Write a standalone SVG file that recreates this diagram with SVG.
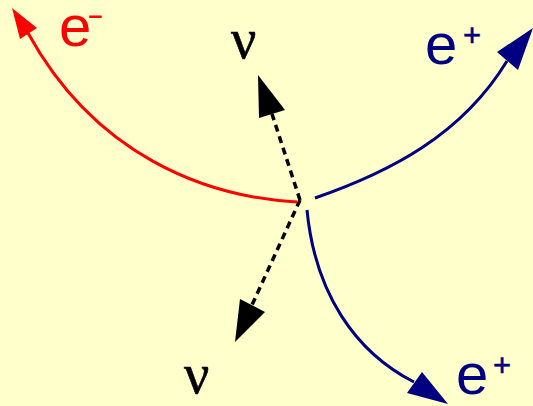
<svg xmlns="http://www.w3.org/2000/svg" width="533" height="406" viewBox="0 0 533 406">
<style>
.bg{fill:#FFFFCC}
.red{fill:none;stroke:#FF0000;stroke-width:3}
.navy{fill:none;stroke:#000080;stroke-width:3}
.dash{fill:none;stroke:#000;stroke-width:3.5;stroke-dasharray:7 5}
.hr{fill:#FF0000}.hn{fill:#000080}.hk{fill:#000}
.lab{font-family:"Liberation Sans",Arial,sans-serif;font-size:58px}
.sup{font-size:31px}
.nu{font-family:"Liberation Serif","Times New Roman",serif;font-size:56px;fill:#000;stroke:#000;stroke-width:0.6}
</style>
<rect class="bg" x="0" y="0" width="533" height="406"/>
<g id="connectors">
<path class="red" d="M297,202 C205,197 95,155 28,33"/>
<polygon class="hr" points="12,8 20,39 37,28"/>
<path class="navy" d="M315,198 C390,172 462,135 507,61"/>
<polygon class="hn" points="533,28 497,52 518,70"/>
<path class="navy" d="M307,210 C315,293 355,352 414,382"/>
<polygon class="hn" points="448,404 407,393 422,372"/>
<path class="dash" d="M300,200 L272,114"/>
<polygon class="hk" points="258,75 259,118 285,110"/>
<path class="dash" d="M300,200 L252,305"/>
<polygon class="hk" points="235,342 240,299 265,312"/>
</g>
<g id="e-minus"><text class="lab" x="59" y="46" fill="#FF0000">e<tspan class="sup" x="87" y="25" textLength="17" lengthAdjust="spacingAndGlyphs">-</tspan></text></g>
<g id="e-plus-top"><text class="lab" x="425" y="64" fill="#000080">e<tspan class="sup" x="463" y="46" stroke="#000080" stroke-width="0.5">+</tspan></text></g>
<g id="e-plus-bottom"><text class="lab" x="456" y="394" fill="#000080">e<tspan class="sup" x="493" y="376" stroke="#000080" stroke-width="0.5">+</tspan></text></g>
<g id="nu-top"><text class="nu" x="231" y="58">ν</text></g>
<g id="nu-bottom"><text class="nu" x="184" y="393">ν</text></g>
</svg>
